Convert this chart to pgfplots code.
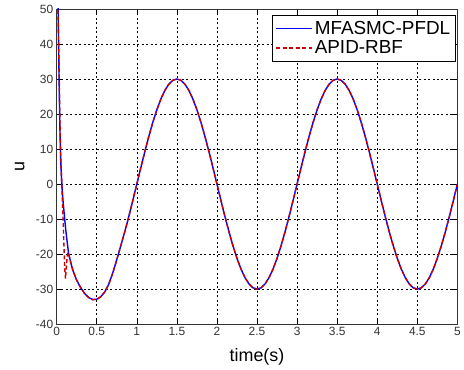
\documentclass[border=0pt]{standalone}
\usepackage{fontspec}
\setmainfont{Liberation Sans}
\usepackage{pgfplots}
\pgfplotsset{compat=1.18}
\usepackage{pgfplotstable}

\pgfplotstableread{
t u
0 75
0.01 62
0.02 47
0.03 30
0.04 16
0.05 7
0.06 2
0.07 -2
0.08 -5
0.1 -10
0.12 -14.5
0.15 -20
0.2 -24.5
0.25 -27.5
0.3 -29.6
0.35 -31.3
0.4 -32.4
0.45 -33
0.5 -32.9
0.55 -32.2
0.6 -30.8
0.65 -28.6
0.7 -25.4
0.75 -21.6
0.8 -17.6
0.85 -13.6
0.9 -9.3
0.95 -4.7
1.0 0
1.05 4.69
1.1 9.27
1.15 13.62
1.2 17.63
1.25 21.21
1.3 24.27
1.35 26.73
1.4 28.53
1.45 29.63
1.5 30
1.55 29.63
1.6 28.53
1.65 26.73
1.7 24.27
1.75 21.21
1.8 17.63
1.85 13.62
1.9 9.27
1.95 4.69
2.0 0
2.05 -4.69
2.1 -9.27
2.15 -13.62
2.2 -17.63
2.25 -21.21
2.3 -24.27
2.35 -26.73
2.4 -28.53
2.45 -29.63
2.5 -30
2.55 -29.63
2.6 -28.53
2.65 -26.73
2.7 -24.27
2.75 -21.21
2.8 -17.63
2.85 -13.62
2.9 -9.27
2.95 -4.69
3.0 0
3.05 4.69
3.1 9.27
3.15 13.62
3.2 17.63
3.25 21.21
3.3 24.27
3.35 26.73
3.4 28.53
3.45 29.63
3.5 30
3.55 29.63
3.6 28.53
3.65 26.73
3.7 24.27
3.75 21.21
3.8 17.63
3.85 13.62
3.9 9.27
3.95 4.69
4.0 0
4.05 -4.69
4.1 -9.27
4.15 -13.62
4.2 -17.63
4.25 -21.21
4.3 -24.27
4.35 -26.73
4.4 -28.53
4.45 -29.63
4.5 -30
4.55 -29.63
4.6 -28.53
4.65 -26.73
4.7 -24.27
4.75 -21.21
4.8 -17.63
4.85 -13.62
4.9 -9.27
4.95 -4.69
5.0 0
}\blue

\pgfplotstableread{
t u
0 70
0.01 56
0.02 45
0.03 33
0.04 19
0.05 9
0.06 2
0.07 -4
0.08 -10
0.09 -17
0.1 -24
0.11 -27
0.12 -24
0.13 -21
0.14 -19.5
0.15 -20
0.2 -24.5
0.25 -27.5
0.3 -29.6
0.35 -31.3
0.4 -32.4
0.45 -33
0.5 -32.9
0.55 -32.2
0.6 -30.8
0.65 -28.6
0.7 -25.4
0.75 -21.6
0.8 -17.6
0.85 -13.6
0.9 -9.3
0.95 -4.7
1.0 0
1.05 4.69
1.1 9.27
1.15 13.62
1.2 17.63
1.25 21.21
1.3 24.27
1.35 26.73
1.4 28.53
1.45 29.63
1.5 30
1.55 29.63
1.6 28.53
1.65 26.73
1.7 24.27
1.75 21.21
1.8 17.63
1.85 13.62
1.9 9.27
1.95 4.69
2.0 0
2.05 -4.69
2.1 -9.27
2.15 -13.62
2.2 -17.63
2.25 -21.21
2.3 -24.27
2.35 -26.73
2.4 -28.53
2.45 -29.63
2.5 -30
2.55 -29.63
2.6 -28.53
2.65 -26.73
2.7 -24.27
2.75 -21.21
2.8 -17.63
2.85 -13.62
2.9 -9.27
2.95 -4.69
3.0 0
3.05 4.69
3.1 9.27
3.15 13.62
3.2 17.63
3.25 21.21
3.3 24.27
3.35 26.73
3.4 28.53
3.45 29.63
3.5 30
3.55 29.63
3.6 28.53
3.65 26.73
3.7 24.27
3.75 21.21
3.8 17.63
3.85 13.62
3.9 9.27
3.95 4.69
4.0 0
4.05 -4.69
4.1 -9.27
4.15 -13.62
4.2 -17.63
4.25 -21.21
4.3 -24.27
4.35 -26.73
4.4 -28.53
4.45 -29.63
4.5 -30
4.55 -29.63
4.6 -28.53
4.65 -26.73
4.7 -24.27
4.75 -21.21
4.8 -17.63
4.85 -13.62
4.9 -9.27
4.95 -4.69
5.0 0
}\red

\begin{document}
\begin{tikzpicture}
\begin{axis}[
  scale only axis,
  width=403pt, height=317pt,
  xmin=0, xmax=5, ymin=-40, ymax=50,
  xtick={0,0.5,...,5},
  xticklabels={0,0.5,1,1.5,2,2.5,3,3.5,4,4.5,5},
  ytick={-40,-30,...,50},
  /pgf/number format/assume math mode=true,
  tick label style={font=\fontsize{12}{14}\selectfont, text=black!80},
  tick align=inside,
  major tick length=5pt,
  tick style={black, line width=0.6pt},
  axis line style={black!80, line width=0.8pt},
  grid=major,
  major grid style={black, line width=0.5pt, dash pattern=on 2pt off 2.5pt},
  xlabel={time(s)},
  ylabel={u},
  label style={font=\fontsize{18}{20}\selectfont},
  xlabel style={at={(axis description cs:0.5,-0.066)}, anchor=north},
  ylabel style={at={(axis description cs:-0.092,0.5)}, anchor=center},
  legend style={at={(0.995,0.981)}, anchor=north east,
    font=\fontsize{19}{21}\selectfont, fill=white, inner xsep=3pt, inner ysep=4pt,
    row sep=1pt},
  legend cell align=left,
  legend image post style={xscale=2.1, line width=1.7pt},
  clip=true,
]
\addplot[color=blue, line width=1.4pt] table[x=t, y=u] {\blue};
\addlegendentry{MFASMC-PFDL}
\addplot[color=red!80!black, line width=1.4pt, dash pattern=on 4pt off 2.5pt] table[x=t, y=u] {\red};
\addlegendentry{APID-RBF}
\end{axis}
\path ([xshift=-57pt,yshift=-46pt]current axis.south west) rectangle ([xshift=4pt,yshift=9pt]current axis.north east);
\end{tikzpicture}
\end{document}
